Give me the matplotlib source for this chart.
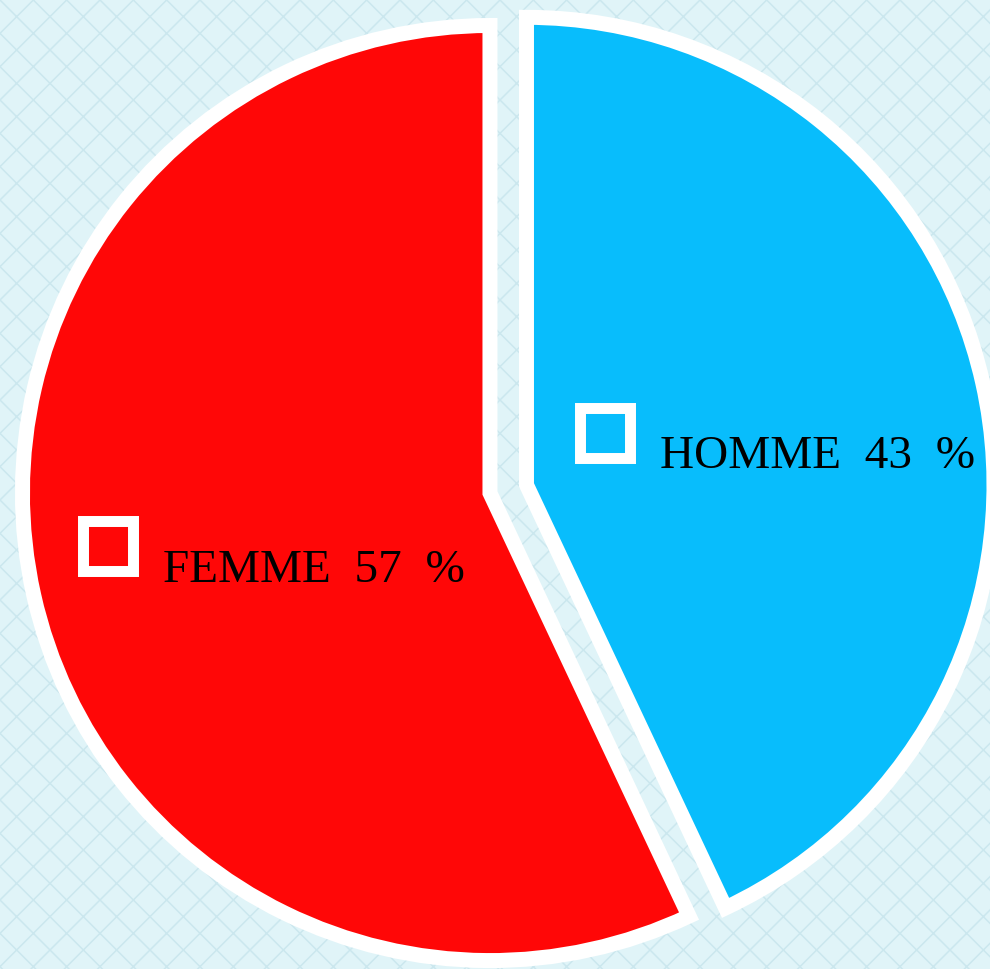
import matplotlib.pyplot as plt
from matplotlib.patches import Rectangle

# donnees
labels = ["HOMME", "FEMME"]
values = [43, 57]
colors = ["#08bdfc", "#ff0707"]
explode = [0.08, 0.0]

plt.rcParams['hatch.linewidth'] = 1.1

fig = plt.figure(figsize=(9.9, 9.69), dpi=100)
fig.patch.set_facecolor("#e0f4f8")
# fond a motif losanges
fig.add_artist(Rectangle((0, 0), 1, 1, transform=fig.transFigure, facecolor="none",
                         edgecolor="#cbe7ee", linewidth=0, hatch="x", zorder=0))

ax = fig.add_axes([0, 0, 1, 1])
ax.set_facecolor("none")
wedges, _ = ax.pie(values, colors=colors, explode=explode, startangle=90,
                   counterclock=False, radius=1.0,
                   wedgeprops=dict(edgecolor="white", linewidth=10.8))
ax.set_xlim(-1.048, 1.0695)
ax.set_ylim(-1.018, 1.0545)
ax.axis("off")

# etiquettes avec petits carres
label_pos = {"HOMME": ((0.247, 0.128), (0.364, 0.0535)),
             "FEMME": ((-0.817, -0.114), (-0.6995, -0.190))}
for lab, val, col in zip(labels, values, colors):
    (bx, by), (tx, ty) = label_pos[lab]
    s = 0.107
    ax.add_patch(Rectangle((bx - s / 2, by - s / 2), s, s, facecolor=col,
                           edgecolor="white", linewidth=7.9, zorder=5))
    ax.text(tx, ty, f"{lab}  {val}  %", fontsize=34, family="Liberation Serif",
            color="black", ha="left", va="baseline", zorder=6)

fig.savefig("out.png", dpi=100, facecolor=fig.get_facecolor())
